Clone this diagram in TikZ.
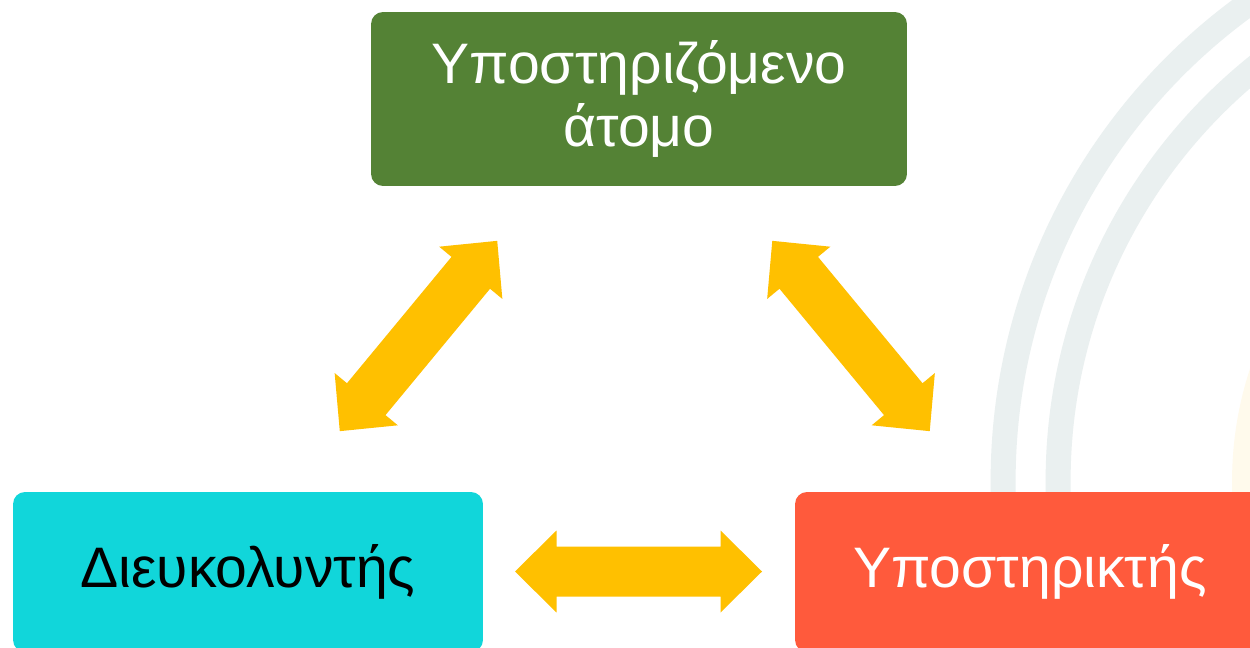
\documentclass[tikz,border=0pt]{standalone}
\usepackage{fontspec}
\setmainfont{Liberation Sans}
\definecolor{boxgreen}{RGB}{84,130,53}
\definecolor{boxcyan}{RGB}{17,214,218}
\definecolor{boxorange}{RGB}{255,90,60}
\definecolor{arrowyellow}{RGB}{255,192,0}
\definecolor{arcgrey}{RGB}{234,240,240}
\definecolor{arccream}{RGB}{255,250,236}
\tikzset{
  box/.style={rectangle, rounded corners=0.24cm, inner sep=0pt, align=center,
    font=\fontsize{32.5}{35.8}\selectfont},
  bgarc/.style={draw=arcgrey, line width=0.5cm},
  dblarrow/.pic={
    \fill[arrowyellow] (-123.5,0) -- (-82,41) -- (-82,25) -- (82,25) -- (82,41)
      -- (123.5,0) -- (82,-41) -- (82,-25) -- (-82,-25) -- (-82,-41) -- cycle;
  }
}
\begin{document}
\begin{tikzpicture}[x=0.02cm,y=-0.02cm]
\useasboundingbox (0,0) rectangle (1250,648);
\clip (0,0) rectangle (1250,648);
\fill[white] (0,0) rectangle (1250,648);
% background decoration
\fill[arccream] (1590,481) circle[radius=7.16cm];
\draw[bgarc] (1590,481) circle[radius=11.74cm];
\draw[bgarc] (1590,481) circle[radius=10.64cm];
% boxes
\node[box, fill=boxgreen, text=white, minimum width=10.72cm, minimum height=3.48cm]
  (supported) at (639,99) {Υποστηριζόμενο\\άτομο};
\node[box, fill=boxcyan, text=black, minimum width=9.4cm, minimum height=3.2cm]
  (facilitator) at (248,572) {Διευκολυντής};
\node[box, fill=boxorange, text=white, minimum width=9.4cm, minimum height=3.2cm]
  (supporter) at (1030,572) {Υποστηρικτής};
% arrows
\path (418.5,336) pic[rotate=50.4] (leftarrow) {dblarrow};
\path (851,336) pic[rotate=-50.4] (rightarrow) {dblarrow};
\path (638.5,571.5) pic (bottomarrow) {dblarrow};
\end{tikzpicture}
\end{document}
